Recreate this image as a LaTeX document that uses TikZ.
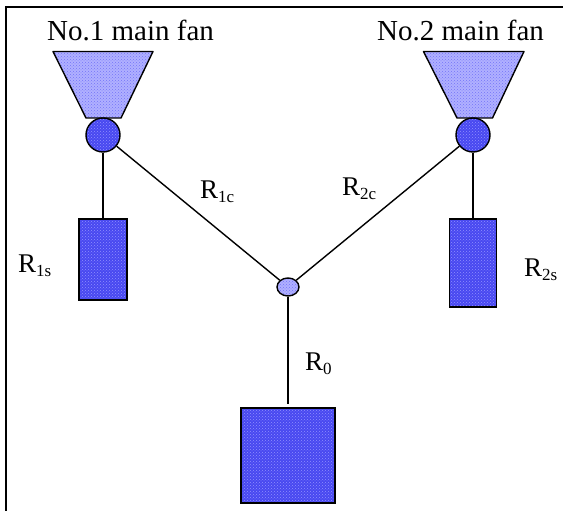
\documentclass[tikz,border=0pt]{standalone}
\usepackage{fontspec}
\setmainfont{Liberation Serif}
\usetikzlibrary{shapes.geometric,patterns}
\definecolor{fanlight}{HTML}{B0B0FF}
\definecolor{fanlightdot}{HTML}{7474F8}
\definecolor{fandark}{HTML}{4848F0}
\definecolor{fandarkdot}{HTML}{9090FF}
\newcommand{\Rsub}[1]{R\raisebox{-4pt}{\fontsize{17}{17}\selectfont #1}}

\begin{document}
\begin{tikzpicture}[
  lightfill/.style = {preaction={fill=fanlight}, pattern=crosshatch dots, pattern color=fanlightdot},
  darkfill/.style  = {preaction={fill=fandark}, pattern=crosshatch dots, pattern color=fandarkdot},
  fanbox/.style    = {draw, lightfill, line width=1.4pt, line join=round},
  hubnode/.style   = {draw, darkfill, circle, line width=1.4pt, minimum size=34pt, inner sep=0pt},
  junction/.style  = {draw, lightfill, ellipse, line width=1.4pt, minimum width=22pt, minimum height=18pt, inner sep=0pt},
  resbox/.style    = {draw, darkfill, line width=1.4pt, inner sep=0pt},
  reslabel/.style  = {font=\fontsize{27}{27}\selectfont, inner sep=0pt, anchor=base west},
  fanlabel/.style  = {font=\fontsize{29}{29}\selectfont, inner sep=0pt, anchor=base west},
  duct/.style      = {line width=1.4pt},
  x=1pt, y=-1pt,
]

  \useasboundingbox (0,0) rectangle (563,511);
  \coordinate (framebl) at (6,511);
  \coordinate (frametl) at (6,7);
  \coordinate (frametr) at (563,7);
  \draw[line width=2pt] (framebl) -- (frametl) -- (frametr);

  \draw[fanbox] (53,51.5) -- (153,51.5) -- (121,118) -- (86,118) -- cycle;
  \draw[fanbox] (423.5,51.5) -- (524,51.5) -- (492.5,118) -- (457,118) -- cycle;
  \node[hubnode] (hub1) at (103,135) {};
  \node[hubnode] (hub2) at (473,135) {};
  \node[junction] (junc) at (288,287) {};
  \node[resbox, minimum width=48pt, minimum height=81pt] (r1s) at (103,259.5) {};
  \node[resbox, minimum width=47pt, minimum height=88pt] (r2s) at (473,263) {};
  \node[resbox, minimum width=94pt, minimum height=95pt] (r0) at (288,455.5) {};

  \draw[duct] (hub1) -- (junc);
  \draw[duct] (hub2) -- (junc);
  \draw[duct] (hub1) -- (r1s);
  \draw[duct] (hub2) -- (r2s);
  \draw[duct, shorten >=3pt] (junc) -- (r0);

  \node[fanlabel] (name1) at (47,40.5) {No.1 main fan};
  \node[fanlabel] (name2) at (377,41) {No.2 main fan};
  \node[reslabel] (lab1c) at (200,198) {\Rsub{1c}};
  \node[reslabel] (lab2c) at (342,195) {\Rsub{2c}};
  \node[reslabel] (lab1s) at (18,272) {\Rsub{1s}};
  \node[reslabel] (lab2s) at (524,276) {\Rsub{2s}};
  \node[reslabel] (lab0) at (305,370) {\Rsub{0}};
\end{tikzpicture}
\end{document}
